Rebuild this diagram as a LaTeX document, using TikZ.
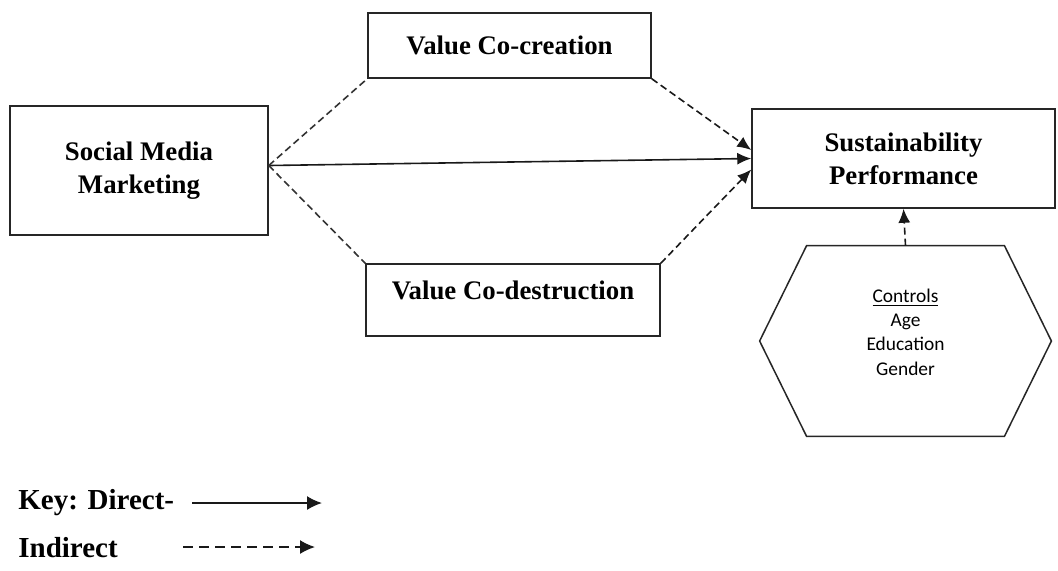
\documentclass[tikz,border=0pt]{standalone}
\usepackage{fontspec}
\setmainfont{Liberation Serif}
\newfontfamily\ctrlfont{Carlito}
\usetikzlibrary{arrows.meta,positioning}

\begin{document}
\begin{tikzpicture}[x=0.5pt,y=-0.5pt,>={Latex[length=7pt,width=6pt]},
    every node/.style={align=center,inner sep=0pt},
    box/.style={rectangle,draw=black!85,line width=0.75pt,
    font=\fontsize{13.4}{16.5}\selectfont\bfseries},
    hexline/.style={draw=black!85,line width=0.75pt},
    con/.style={->,line width=0.8pt,black!90},
    ind/.style={con,dash pattern=on 3.5pt off 2pt},
    link/.style={line width=0.8pt,black!80,dash pattern=on 3.5pt off 2pt},
    keytext/.style={font=\fontsize{14.5}{17}\selectfont\bfseries,anchor=west}
    ]
    \useasboundingbox (0,0) rectangle (1058,570);

    \node (smm) [box,minimum width=129pt,minimum height=64.5pt] at (139,170.5)
      {Social Media\\Marketing};
    \node (vcc) [box,minimum width=141.5pt,minimum height=32.5pt] at (509.5,45.5)
      {Value Co-creation};
    \node (vcd) [box,minimum width=147pt,text height=17.5pt,text depth=18.5pt] at (513,300)
      {Value Co-destruction};
    \node (sp) [box,minimum width=151.5pt,minimum height=49.5pt] at (903.5,158.5)
      {Sustainability\\Performance};

    % controls hexagon
    \node (ctrl) [minimum width=145.5pt,minimum height=95pt] at (905.5,341) {};
    \draw [hexline] ([xshift=23.5pt]ctrl.north west) -- ([xshift=-23.5pt]ctrl.north east)
      -- (ctrl.east) -- ([xshift=-23.5pt]ctrl.south east)
      -- ([xshift=23.5pt]ctrl.south west) -- (ctrl.west) -- cycle;
    \node (ctrltxt) [font=\ctrlfont\fontsize{9.7}{12.2}\selectfont] at ([yshift=4.5pt]ctrl.center)
      {\underline{Controls}\\Age\\Education\\Gender};

    \coordinate (hub) at ([yshift=2.5pt]smm.east);
    \draw [con]  (hub) -- (sp.west);
    \draw [link] (hub) -- (vcc.south west);
    \draw [link] (hub) -- (vcd.north west);
    \draw [ind]  (vcc.south east) -- ([yshift=4.25pt]sp.west);
    \draw [ind]  (vcd.north east) -- ([yshift=-5.5pt]sp.west);
    \draw [ind]  (ctrl.north) -- (sp.south);

    % key
    \node (kdir) [keytext] at (18,503) {Key: Direct-};
    \node (kind) [keytext] at (18,548) {Indirect};
    \coordinate (kd1) at (192,503);
    \coordinate (kd2) at (322,503);
    \coordinate (ki1) at (183,547);
    \coordinate (ki2) at (315,547);
    \draw [con,>={Latex[length=7.5pt,width=7pt]}] (kd1) -- (kd2);
    \draw [con,>={Latex[length=7.5pt,width=7pt]},dash pattern=on 5pt off 3pt] (ki1) -- (ki2);
\end{tikzpicture}
\end{document}
